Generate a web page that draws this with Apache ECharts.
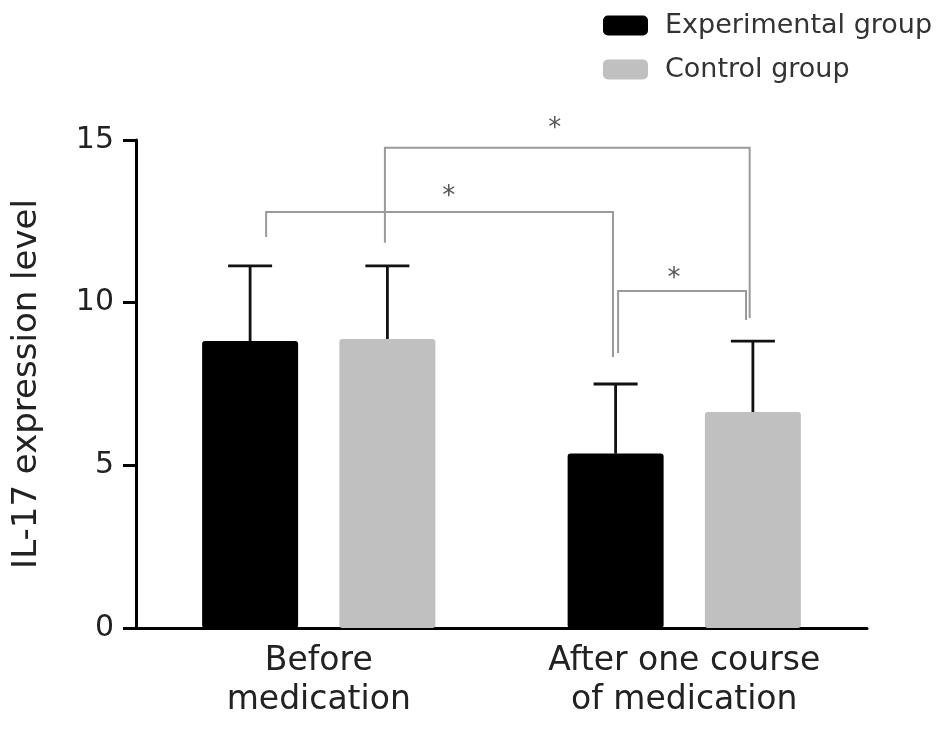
<!DOCTYPE html>
<html>
<head>
<meta charset="utf-8">
<script src="https://cdn.jsdelivr.net/npm/echarts@6/dist/echarts.min.js"></script>
<style>html,body{margin:0;padding:0;background:#fff;}#chart{width:946px;height:730px;}</style>
</head>
<body>
<div id="chart"></div>
<script>
// ---- data ----
var categories = ['Before\nmedication', 'After one course\nof medication'];
var seriesNames = ['Experimental group', 'Control group'];
var expMean = [8.82, 5.36];
var expSD = [2.31, 2.14];
var ctrlMean = [8.88, 6.64];
var ctrlSD = [2.25, 2.18];
var yTicks = [0, 5, 10, 15];
// brackets: [xLeft, xRight, yTop, yLeftEnd, yRightEnd] (x in category units)
var brackets = [
  [-0.144, 0.805, 12.79, 12.02, 8.33],
  [0.181, 1.179, 14.76, 11.84, 9.53],
  [0.819, 1.169, 10.36, 8.45, 9.47]
];
// significance marks: [x, y, text]
var stars = [
  [0.356, 13.43, '*'],
  [0.646, 15.52, '*'],
  [0.972, 10.91, '*']
];

var FONT = 'DejaVu Sans';
var BAR_W = 96, BAR_GAP = 0.43;
var colors = ['#000000', '#c0c0c0'];

function errData(mean, sd) {
  return mean.map(function (m, i) { return [i, m, sd[i]]; });
}
function errRender(dir) {
  return function (params, api) {
    var i = api.value(0), m = api.value(1), sd = api.value(2);
    var off = dir * (BAR_W + BAR_W * BAR_GAP) / 2;
    var p0 = api.coord([i, m]);
    var p1 = api.coord([i, m + sd]);
    var x = p0[0] + off;
    var half = 22;
    return {
      type: 'group',
      children: [
        { type: 'line', shape: { x1: x, y1: p0[1], x2: x, y2: p1[1] }, style: { stroke: '#111', lineWidth: 2.8 } },
        { type: 'line', shape: { x1: x - half, y1: p1[1], x2: x + half, y2: p1[1] }, style: { stroke: '#111', lineWidth: 2.8 } }
      ]
    };
  };
}

var chart = echarts.init(document.getElementById('chart'));
chart.setOption({
  animation: false,
  backgroundColor: '#fff',
  legend: {
    orient: 'vertical',
    left: 598, top: 7,
    itemWidth: 45, itemHeight: 20, itemGap: 17,
    icon: 'roundRect',
    data: seriesNames,
    textStyle: { fontFamily: FONT, fontSize: 27, color: '#333', padding: [0, 0, 0, 12], lineHeight: 20 }
  },
  grid: { left: 136, right: 79, top: 140, bottom: 102, containLabel: false },
  xAxis: [{
    type: 'category',
    data: categories,
    axisLine: { lineStyle: { color: '#000', width: 3 } },
    axisTick: { alignWithLabel: true, length: 12, lineStyle: { color: '#000', width: 3 } },
    axisLabel: { fontFamily: FONT, fontSize: 33, color: '#222', margin: 14, lineHeight: 39 }
  }, {
    type: 'value', min: -0.5, max: 1.5, show: false
  }],
  yAxis: {
    type: 'value',
    min: yTicks[0], max: yTicks[yTicks.length - 1], interval: 5,
    name: 'IL-17 expression level',
    nameLocation: 'middle', nameGap: 92,
    nameTextStyle: { fontFamily: FONT, fontSize: 34, color: '#222' },
    axisLine: { show: true, onZero: false, lineStyle: { color: '#000', width: 3 } },
    axisTick: { show: true, length: 13, lineStyle: { color: '#000', width: 3 } },
    axisLabel: { fontFamily: FONT, fontSize: 30, color: '#222', margin: 22 },
    splitLine: { show: false }
  },
  series: [
    {
      name: seriesNames[0], type: 'bar', data: expMean, barWidth: BAR_W, barGap: (BAR_GAP * 100) + '%',
      itemStyle: { color: colors[0], borderRadius: 3 }, z: 3
    },
    {
      name: seriesNames[1], type: 'bar', data: ctrlMean, barWidth: BAR_W, barGap: (BAR_GAP * 100) + '%',
      itemStyle: { color: colors[1], borderRadius: 3 }, z: 3
    },
    {
      type: 'custom', xAxisIndex: 0, data: errData(expMean, expSD), renderItem: errRender(-1), z: 2, silent: true
    },
    {
      type: 'custom', xAxisIndex: 0, data: errData(ctrlMean, ctrlSD), renderItem: errRender(1), z: 2, silent: true
    },
    {
      type: 'custom', xAxisIndex: 1, data: brackets, silent: true, z: 4,
      encode: { x: [0, 1], y: [2, 3, 4] },
      renderItem: function (params, api) {
        var a = api.coord([api.value(0), api.value(2)]);
        var b = api.coord([api.value(1), api.value(2)]);
        var l = api.coord([api.value(0), api.value(3)]);
        var r = api.coord([api.value(1), api.value(4)]);
        return {
          type: 'polyline',
          shape: { points: [[l[0], l[1]], [a[0], a[1]], [b[0], b[1]], [r[0], r[1]]] },
          style: { stroke: '#9a9a9a', lineWidth: 2, fill: null }
        };
      }
    },
    {
      type: 'custom', xAxisIndex: 1, data: stars, silent: true, z: 4,
      encode: { x: 0, y: 1 },
      renderItem: function (params, api) {
        var p = api.coord([api.value(0), api.value(1)]);
        var fs = 26;
        return {
          type: 'text',
          style: { text: stars[params.dataIndex][2], x: p[0], y: p[1] + fs * 0.22, align: 'center', verticalAlign: 'middle',
                   fontFamily: FONT, fontSize: fs, fill: '#555' }
        };
      }
    }
  ]
});
</script>
</body>
</html>
